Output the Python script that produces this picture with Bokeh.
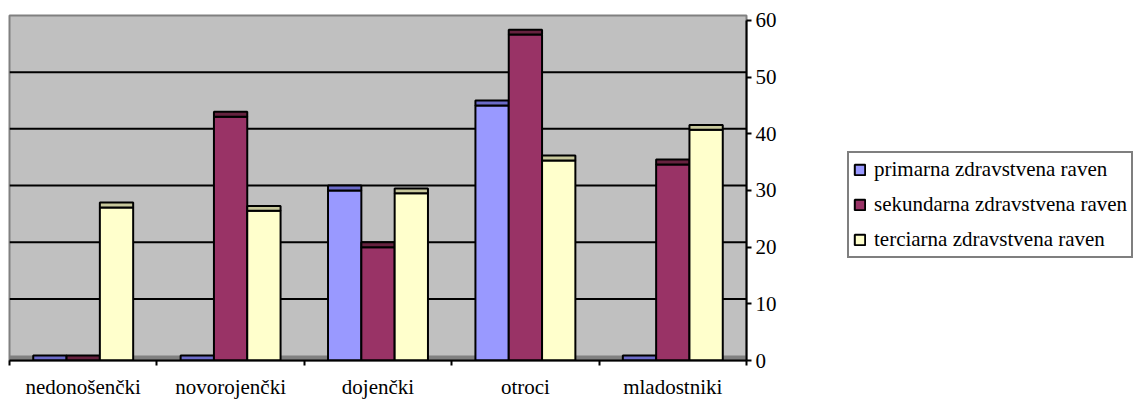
import numpy as np
from bokeh.plotting import figure
from bokeh.layouts import row
from bokeh.models import Range1d, FixedTicker, Legend, LegendItem, ColumnDataSource
from bokeh.embed import file_html
from bokeh.resources import INLINE

categories = ["nedonošenčki", "novorojenčki", "dojenčki", "otroci", "mladostniki"]
series_names = ["primarna zdravstvena raven", "sekundarna zdravstvena raven", "terciarna zdravstvena raven"]
primarna = [0, 0, 30, 45, 0]
sekundarna = [0, 43, 20, 57.5, 34.6]
terciarna = [27, 26.4, 29.5, 35.3, 40.7]
y_ticks = [0, 10, 20, 30, 40, 50, 60]

face_colors = ["#9999FF", "#993366", "#FFFFCC"]
top_colors = ["#6B6BC8", "#66223F", "#C8C89C"]
FONT = "'Liberation Serif', 'Times New Roman', serif"

# geometry of the chart frame in pixels
FRAME_H = 352
DEPTH_PX = 5
ppu = (FRAME_H - DEPTH_PX) / 60.0
DEPTH = DEPTH_PX / ppu
BAR_W = 0.226

p = figure(width=847, height=401, output_backend="svg", toolbar_location=None,
           x_range=Range1d(0, len(categories)), y_range=Range1d(0, 60 + DEPTH),
           y_axis_location="right", min_border_left=9, min_border_right=101,
           min_border_top=15, min_border_bottom=34)
p.background_fill_color = "#C0C0C0"
p.border_fill_color = "white"
p.outline_line_color = "#808080"
p.outline_line_width = 2
p.xgrid.visible = False
p.ygrid.visible = False

# floor of the 3D box
p.quad(left=[0], right=[len(categories)], bottom=[0], top=[DEPTH],
       fill_color="#808080", line_color=None)

# gridlines on the back wall
grid_vals = [v + DEPTH for v in y_ticks[1:-1]]
p.segment(x0=[0] * len(grid_vals), x1=[len(categories)] * len(grid_vals),
          y0=grid_vals, y1=grid_vals, line_color="black", line_width=2)

centers = np.arange(len(categories)) + 0.5
offsets = [-BAR_W, 0, BAR_W]
for vals, off, fc, tc in zip([primarna, sekundarna, terciarna], offsets, face_colors, top_colors):
    src = ColumnDataSource(dict(x=centers + off, top=vals,
                                cap=[v + DEPTH for v in vals]))
    p.vbar(x="x", width=BAR_W, bottom=0, top="top", source=src,
           fill_color=fc, line_color="black", line_width=2)
    p.vbar(x="x", width=BAR_W, bottom="top", top="cap", source=src,
           fill_color=tc, line_color="black", line_width=2)

# category axis: labels at centres, ticks at boundaries
xa = p.xaxis[0]
xa.ticker = FixedTicker(ticks=list(centers), minor_ticks=list(range(len(categories) + 1)))
xa.major_label_overrides = {float(c): name for c, name in zip(centers, categories)}
xa.major_tick_line_color = None
xa.major_tick_out = 0
xa.major_tick_in = 0
xa.minor_tick_line_color = "black"
xa.minor_tick_line_width = 2
xa.minor_tick_out = 5
xa.minor_tick_in = 0
xa.axis_line_color = "black"
xa.axis_line_width = 2
xa.major_label_standoff = 9
xa.major_label_text_font = FONT
xa.major_label_text_font_size = "21px"
xa.major_label_text_color = "black"

ya = p.yaxis[0]
ya.ticker = FixedTicker(ticks=y_ticks)
ya.bounds = (0, 60)
ya.axis_line_color = "black"
ya.axis_line_width = 2
ya.major_tick_line_color = "black"
ya.major_tick_line_width = 2
ya.major_tick_out = 5
ya.major_tick_in = 0
ya.minor_tick_line_color = None
ya.major_label_standoff = 4
ya.major_label_text_font = FONT
ya.major_label_text_font_size = "21px"
ya.major_label_text_color = "black"

# legend panel beside the chart; the swatch glyphs sit behind the legend box
pl = figure(width=286, height=401, output_backend="svg", toolbar_location=None,
            x_range=Range1d(0, 1), y_range=Range1d(0, 1),
            x_axis_type=None, y_axis_type=None, min_border=0)
pl.outline_line_color = None
pl.xgrid.visible = False
pl.ygrid.visible = False
swatches = []
for fc in face_colors:
    swatches.append(pl.vbar(x=[0.5], bottom=[0.4], top=[0.45], width=0.1, fill_color=fc,
                            line_color="black", line_width=2))

legend = Legend(items=[LegendItem(label=n, renderers=[r]) for n, r in zip(series_names, swatches)],
                location=(0, 102))
legend.label_text_font = FONT
legend.label_text_font_size = "21px"
legend.label_text_color = "black"
legend.glyph_width = 13
legend.glyph_height = 13
legend.label_standoff = 8
legend.label_height = 24
legend.spacing = 10
legend.padding = 4
legend.margin = 0
legend.border_line_color = "black"
legend.border_line_width = 2
legend.background_fill_color = "white"
legend.background_fill_alpha = 1
pl.add_layout(legend, "center")

layout = row(p, pl, spacing=0)
open("out.html", "w").write(file_html(layout, INLINE))
